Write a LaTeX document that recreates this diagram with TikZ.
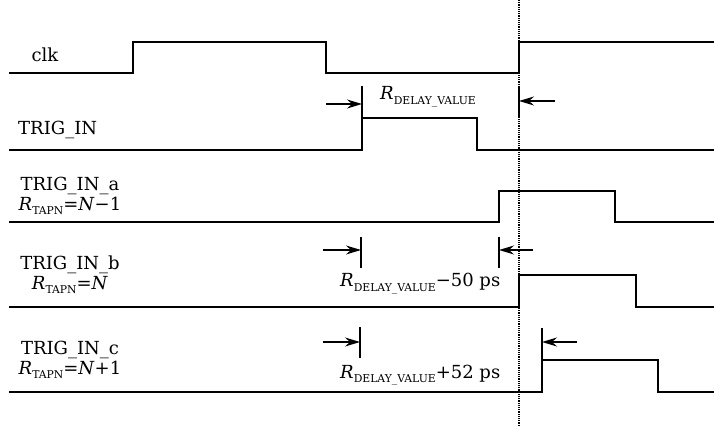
\documentclass[tikz,border=0pt]{standalone}
\usepackage{fontspec}
\setmainfont{DejaVu Serif}
\usetikzlibrary{arrows.meta}
\newcommand{\rsub}[1]{\textit{R}\raisebox{-0.45ex}{\fontsize{10.8}{11}\selectfont #1}}
\begin{document}
\begin{tikzpicture}[x=1pt, y=-1pt,
    wave/.style={line width=1.5pt, line join=miter},
    tick/.style={line width=1.5pt},
    dimarrow/.style={line width=1.4pt, -{Stealth[length=15pt, width=9pt, inset=5pt]}},
    every node/.style={font=\fontsize{18}{20}\selectfont, inner sep=0pt}]
    \useasboundingbox (0,0) rectangle (714,427);

    % 1. Draw the five waveforms
    \draw[wave] (9,73) -- (133,73) -- (133,42) -- (326,42) -- (326,73) -- (519,73) -- (519,42) -- (714,42);
    \draw[wave] (9,150) -- (362,150) -- (362,118) -- (477,118) -- (477,150) -- (714,150);
    \draw[wave] (9,222) -- (499,222) -- (499,191) -- (615,191) -- (615,222) -- (714,222);
    \draw[wave] (9,307) -- (519,307) -- (519,275) -- (636,275) -- (636,307) -- (714,307);
    \draw[wave] (9,392) -- (542,392) -- (542,360) -- (658,360) -- (658,392) -- (714,392);

    % 2. Dotted line at the clk rising edge
    \draw[densely dotted, line width=1.2pt] (519,0) -- (519,427);

    % 3. Signal names
    \node[anchor=base] (lblclk) at (45,62) {clk};
    \node[anchor=base west] (lbltrig) at (18,135) {TRIG\_IN};
    \node[align=center] (lbla) at (70,196) {TRIG\_IN\_a\\\rsub{TAPN}=\textit{N}−1};
    \node[align=center] (lblb) at (70,275) {TRIG\_IN\_b\\\rsub{TAPN}=\textit{N}};
    \node[align=center] (lblc) at (70,360) {TRIG\_IN\_c\\\rsub{TAPN}=\textit{N}+1};

    % 4. Delay markers
    \coordinate (tk1) at (362,104);  \coordinate (st1) at (326,104);
    \coordinate (tk2) at (519,101);  \coordinate (st2) at (555,101);
    \draw[tick] (362,86) -- (362,118);
    \draw[tick] (519,86) -- (519,117);
    \draw[dimarrow] (st1) -- (tk1);
    \draw[dimarrow] (st2) -- (tk2);
    \node[anchor=base west] (dlymain) at (380,100) {\rsub{DELAY\_VALUE}};

    \coordinate (tk3) at (361,250);  \coordinate (st3) at (323,250);
    \coordinate (tk4) at (499,250);  \coordinate (st4) at (533,250);
    \draw[tick] (361,237) -- (361,268);
    \draw[tick] (499,237) -- (499,268);
    \draw[dimarrow] (st3) -- (tk3);
    \draw[dimarrow] (st4) -- (tk4);
    \node[anchor=base west] (dlyminus) at (340,287) {\rsub{DELAY\_VALUE}−50 ps};

    \coordinate (tk5) at (360,342);  \coordinate (st5) at (323,342);
    \coordinate (tk6) at (542,342);  \coordinate (st6) at (577,342);
    \draw[tick] (360,327) -- (360,358);
    \draw[tick] (542,328) -- (542,360);
    \draw[dimarrow] (st5) -- (tk5);
    \draw[dimarrow] (st6) -- (tk6);
    \node[anchor=base west] (dlyplus) at (340,378) {\rsub{DELAY\_VALUE}+52 ps};

\end{tikzpicture}
\end{document}
